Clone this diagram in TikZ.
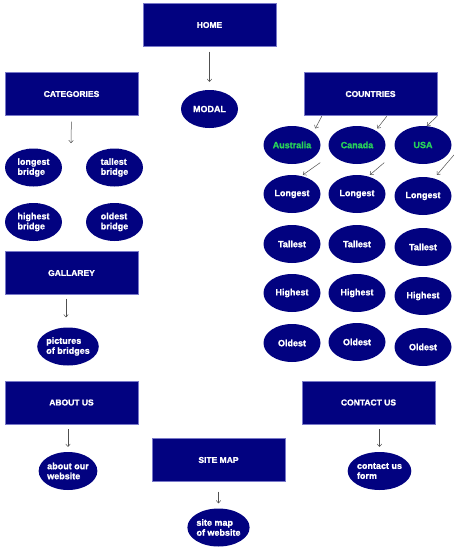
\documentclass[tikz,border=0pt]{standalone}
\usepackage{fontspec}
\setmainfont{Liberation Sans}[BoldFeatures={FakeBold=1.3}]
\usetikzlibrary{shapes.geometric,arrows.meta}
\definecolor{boxblue}{RGB}{2,2,128}
\definecolor{edgeblue}{RGB}{120,120,200}
\definecolor{ctry}{RGB}{40,210,90}
\definecolor{arrgray}{RGB}{80,80,80}
\tikzset{
  pagebox/.style={rectangle, fill=boxblue, draw=edgeblue, line width=0.4pt,
    minimum width=133pt, minimum height=43pt, inner sep=0pt,
    text=white, font=\fontsize{8.5}{10}\selectfont\bfseries},
  oval/.style={ellipse, fill=boxblue, draw=none, minimum width=57pt, minimum height=38pt,
    inner sep=0pt, text=white, align=left, font=\fontsize{9}{10}\selectfont\bfseries},
  ctryoval/.style={oval, text=ctry},
  arr/.style={draw=arrgray, line width=0.5pt, -{To[length=3pt,width=5pt]}},
}
\begin{document}
\begin{tikzpicture}[x=1pt,y=-1pt]
\useasboundingbox (0,0) rectangle (454,550);
% boxes
\node[pagebox] (home) at (209.5,25) {HOME};
\node[pagebox] (cat) at (71.5,94) {CATEGORIES};
\node[pagebox] (countries) at (370.5,94) {COUNTRIES};
\node[pagebox] (gal) at (71.5,273) {GALLAREY};
\node[pagebox] (about) at (71.5,402.5) {ABOUT US};
\node[pagebox] (contact) at (368.5,402.5) {CONTACT US};
\node[pagebox] (sitemap) at (218.5,460) {SITE MAP};
% ovals
\node[oval] (modal) at (209.5,109) {MODAL};
\node[oval] (lb) at (33.5,167.5) {longest\\bridge};
\node[oval] (tb) at (114.5,167.5) {tallest\\bridge};
\node[oval] (hb) at (33.5,222) {highest\\bridge};
\node[oval] (ob) at (114.5,222) {oldest\\bridge};
\node[oval] (pics) at (68,346.5) {pictures\\of bridges};
\node[oval] (aboutw) at (68,471) {about our\\website};
\node[oval] (form) at (379.5,471) {contact us\\form};
\node[oval] (smw) at (218.5,527.5) {site map\\of website};
% countries
\node[ctryoval] (aus) at (292,145) {Australia};
\node[ctryoval] (can) at (357,145) {Canada};
\node[ctryoval] (usa) at (423,145) {USA};
\node[oval] (l1) at (292,194) {Longest};
\node[oval] (l2) at (357,194) {Longest};
\node[oval] (l3) at (423,196) {Longest};
\node[oval] (t1) at (292,244) {Tallest};
\node[oval] (t2) at (357,244) {Tallest};
\node[oval] (t3) at (423,247) {Tallest};
\node[oval] (h1) at (292,293) {Highest};
\node[oval] (h2) at (357,293) {Highest};
\node[oval] (h3) at (423,296) {Highest};
\node[oval] (o1) at (292,343) {Oldest};
\node[oval] (o2) at (357,342) {Oldest};
\node[oval] (o3) at (423,347) {Oldest};
% arrows
\draw[arr, shorten <=5pt, shorten >=8pt] (home.south) -- (modal.north);
\coordinate (catend) at (71,143);
\draw[arr, shorten <=6pt] (cat.south) -- (catend);
\draw[arr, shorten <=4pt, shorten >=10pt] (gal.south -| pics.north) ++(-2,0) -- ([xshift=-2pt]pics.north);
\draw[arr, shorten <=5pt, shorten >=5pt] (about.south -| aboutw.north) -- (aboutw.north);
\draw[arr, shorten <=5pt, shorten >=5pt] (contact.south -| form.north) -- (form.north);
\draw[arr, shorten <=10pt, shorten >=5pt] (sitemap.south -| smw.north) -- (smw.north);
\draw[arr] ([xshift=18pt,yshift=-0.5pt]countries.south west) -- ([shift={(3pt,3pt)}]aus.north east);
\draw[arr] ([xshift=83pt,yshift=-0.5pt]countries.south west) -- ([shift={(0pt,3pt)}]can.north east);
\draw[arr] ([yshift=-0.5pt]countries.south east) -- ([shift={(4pt,0pt)}]usa.north);
\draw[arr] ([shift={(8pt,-4pt)}]aus.south east) -- ([shift={(11pt,0pt)}]l1.north);
\draw[arr] ([shift={(7pt,-4pt)}]can.south east) -- ([shift={(13pt,0pt)}]l2.north);
\draw[arr] ([shift={(11pt,4pt)}]usa.south east) -- ([shift={(14pt,2pt)}]l3.north);
\end{tikzpicture}
\end{document}
